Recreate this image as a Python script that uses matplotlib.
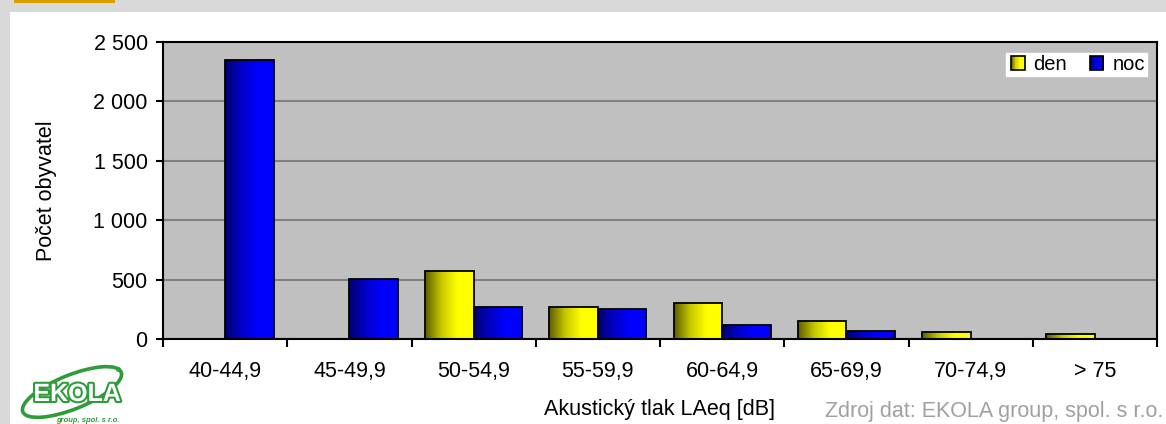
import numpy as np
import matplotlib
matplotlib.use('Agg')
import matplotlib.pyplot as plt
import matplotlib.patheffects as pe
from matplotlib import colors
from matplotlib.patches import Rectangle, Ellipse
from matplotlib.legend_handler import HandlerBase
from matplotlib.ticker import FuncFormatter, MultipleLocator

plt.rcParams['font.family'] = ['Liberation Sans', 'DejaVu Sans']

categories = ['40-44,9', '45-49,9', '50-54,9', '55-59,9', '60-64,9', '65-69,9', '70-74,9', '> 75']
den = [0, 0, 575, 270, 305, 155, 55, 40]
noc = [2350, 505, 272, 255, 120, 70, 0, 0]
series_names = ['den', 'noc']

den_cmap = colors.LinearSegmentedColormap.from_list('den', ['#5f5f00', '#c8c800', '#ffff00', '#ffff00'])
noc_cmap = colors.LinearSegmentedColormap.from_list('noc', ['#000070', '#0000c8', '#0000ff', '#0000ff'])
grad = np.linspace(0, 1, 64).reshape(1, -1)
FS = 15.5


def gradient_bars(ax, bars, cmap):
    for b in bars:
        if b.get_height() <= 0:
            continue
        x, y = b.get_x(), b.get_y()
        w, h = b.get_width(), b.get_height()
        im = ax.imshow(grad, cmap=cmap, aspect='auto', extent=[x, x + w, y, y + h],
                       interpolation='bicubic', zorder=2)
        im.set_clip_path(b)
        b.set_facecolor('none')
        b.set_zorder(3)


class GradientHandler(HandlerBase):
    def __init__(self, cmap):
        super().__init__()
        self.cmap = cmap

    def create_artists(self, legend, orig_handle, xdescent, ydescent, width, height, fontsize, trans):
        s = 10.0
        x0 = -xdescent + width - s
        y0 = -ydescent + (height - s) / 2 - 0.5
        n = 12
        arts = []
        for i in range(n):
            arts.append(Rectangle((x0 + i * s / n, y0), s / n + 0.1, s, facecolor=self.cmap(i / (n - 1)),
                                  edgecolor='none', transform=trans))
        arts.append(Rectangle((x0, y0), s, s, facecolor='none', edgecolor='black', lw=1.2, transform=trans))
        return arts


fig = plt.figure(figsize=(11.66, 4.24), dpi=100)
fig.patch.set_facecolor('white')
fig.patches.append(Rectangle((0, 0), 10 / 1166, 1, transform=fig.transFigure, facecolor='#d9d9d9',
                             edgecolor='none', zorder=0))
fig.patches.append(Rectangle((0, 1 - 12 / 424), 1, 12 / 424, transform=fig.transFigure, facecolor='#d9d9d9',
                             edgecolor='none', zorder=0))
fig.patches.append(Rectangle((14 / 1166, 1 - 3 / 424), 101 / 1166, 3 / 424, transform=fig.transFigure,
                             facecolor='#d89e00', edgecolor='none', zorder=1))

ax = fig.add_axes([163 / 1166, 85 / 424, 994 / 1166, 297 / 424])
ax.set_facecolor('#c0c0c0')

x = np.arange(len(categories))
w = 0.39
b1 = ax.bar(x - w / 2, den, w, edgecolor='black', linewidth=1.3, label=series_names[0])
b2 = ax.bar(x + w / 2, noc, w, edgecolor='black', linewidth=1.3, label=series_names[1])
gradient_bars(ax, b1, den_cmap)
gradient_bars(ax, b2, noc_cmap)

ax.set_xlim(-0.5, len(categories) - 0.5)
ax.set_ylim(0, 2500)
ax.yaxis.set_major_locator(MultipleLocator(500))
ax.yaxis.set_major_formatter(FuncFormatter(lambda v, p: '{:,}'.format(int(v)).replace(',', ' ')))
ax.grid(axis='y', color='#808080', lw=1.5, zorder=1)
ax.set_axisbelow(True)

ax.set_xticks(np.arange(len(categories) + 1) - 0.5)
ax.set_xticklabels([])
ax.set_xticks(x, minor=True)
ax.set_xticklabels(categories, minor=True)
ax.tick_params(axis='x', which='major', length=6, width=1.5, direction='out')
ax.tick_params(axis='x', which='minor', length=0, pad=16, labelsize=FS)
ax.tick_params(axis='y', length=5, width=1.5, pad=6, labelsize=FS)
for s in ax.spines.values():
    s.set_linewidth(1.5)

ax.set_ylabel('Počet obyvatel', fontsize=FS, labelpad=26)
fig.text(660 / 1166, 1 - 410 / 424, 'Akustický tlak LAeq [dB]', ha='center', va='center', fontsize=FS)
fig.text(1163 / 1166, 1 - 411 / 424, 'Zdroj dat: EKOLA group, spol. s r.o.', ha='right', va='center',
         fontsize=FS, color='#a0a0a0')

leg = ax.legend(handles=[b1, b2], labels=series_names, loc='upper right', bbox_to_anchor=(0.99, 0.964),
                frameon=True, fancybox=False, framealpha=1, edgecolor='white', fontsize=14.5,
                handler_map={b1: GradientHandler(den_cmap), b2: GradientHandler(noc_cmap)},
                ncol=2, handlelength=0.8, handletextpad=0.45, columnspacing=1.0, borderpad=0.1,
                borderaxespad=0)

# logo
lax = fig.add_axes([14 / 1166, 0, 112 / 1166, 62 / 424])
lax.set_xlim(0, 112)
lax.set_ylim(0, 62)
lax.axis('off')
lax.add_patch(Ellipse((58, 32), 106, 34, angle=22, facecolor='none', edgecolor='#2e9c3a', lw=2.6))
lax.text(63, 30, 'EKOLA', ha='center', va='center', fontsize=18, fontweight='bold', color='white',
         path_effects=[pe.withStroke(linewidth=3, foreground='#2e9c3a')])
lax.text(74, 4, 'group, spol. s r.o.', ha='center', va='center', fontsize=5.5, style='italic',
         fontweight='bold', color='#2e9c3a')
lax.plot([104], [55], marker='o', ms=3, mfc='none', mec='#2e9c3a', mew=0.6)

fig.savefig('out.png', dpi=100)
